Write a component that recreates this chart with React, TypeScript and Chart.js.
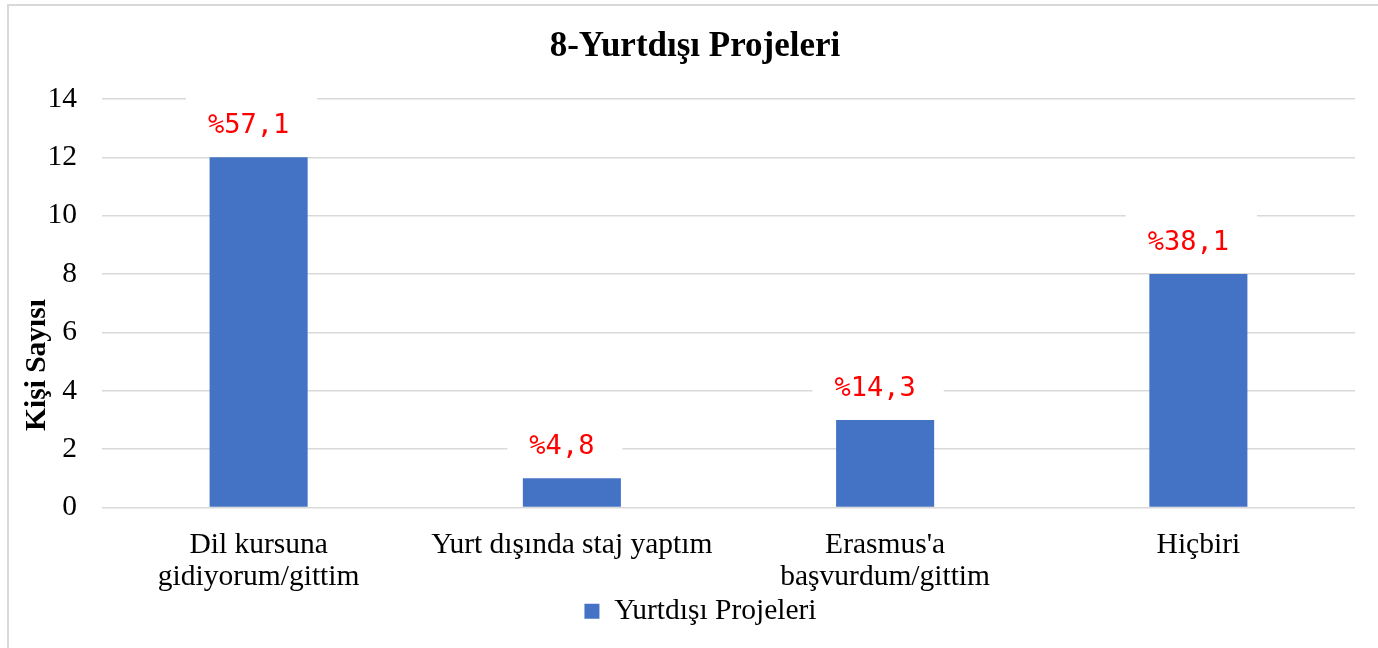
import React, { useEffect, useRef } from "react";
import { Chart, registerables } from "chart.js";

Chart.register(...registerables);

const chartTitle = "8-Yurtdışı Projeleri";
const yAxisTitle = "Kişi Sayısı";
const seriesName = "Yurtdışı Projeleri";
const categories: string[][] = [
  ["Dil kursuna", "gidiyorum/gittim"],
  ["Yurt dışında staj yaptım"],
  ["Erasmus'a", "başvurdum/gittim"],
  ["Hiçbiri"],
];
const values = [12, 1, 3, 8];
const percentLabels = ["%57,1", "%4,8", "%14,3", "%38,1"];
const yMin = 0;
const yMax = 14;
const yStep = 2;

const SERIF = '"Times New Roman", "Liberation Serif", serif';
const FS = 29.5;

const decorPlugin = {
  id: "decor",
  afterDatasetsDraw(chart: any) {
    const ctx = chart.ctx;
    const meta = chart.getDatasetMeta(0);
    ctx.save();
    ctx.font = '27px "DejaVu Sans Mono", monospace';
    ctx.textAlign = "center";
    ctx.textBaseline = "middle";
    meta.data.forEach((bar: any, i: number) => {
      const text = percentLabels[i];
      const cy = bar.y - 31;
      const w = ctx.measureText(text).width;
      const bw = w + 50;
      ctx.fillStyle = "#ffffff";
      ctx.fillRect(bar.x - 7 - bw / 2, cy - 32, bw, 56);
      ctx.fillStyle = "#FF0000";
      ctx.fillText(text, bar.x - 10, cy);
    });
    ctx.restore();
  },
  afterDraw(chart: any) {
    const ctx = chart.ctx;
    ctx.save();
    ctx.fillStyle = "#000000";
    ctx.textAlign = "center";
    ctx.textBaseline = "middle";
    ctx.font = `bold 35px ${SERIF}`;
    ctx.fillText(chartTitle, 695, 47);
    ctx.translate(37, 365);
    ctx.rotate(-Math.PI / 2);
    ctx.font = `bold ${FS}px ${SERIF}`;
    ctx.fillText(yAxisTitle, 0, 0);
    ctx.restore();
  },
};

export default function App() {
  const ref = useRef<HTMLCanvasElement | null>(null);
  useEffect(() => {
    if (!ref.current) return;
    const chart = new Chart(ref.current, {
      type: "bar",
      data: {
        labels: categories,
        datasets: [
          {
            label: seriesName,
            data: values,
            backgroundColor: "#4472C4",
            borderWidth: 0,
            barPercentage: 0.313,
            categoryPercentage: 1,
          },
        ],
      },
      options: {
        responsive: false,
        animation: false,
        layout: { padding: { left: 46, right: 23, top: 99, bottom: 12 } },
        plugins: {
          title: { display: false },
          tooltip: { enabled: false },
          legend: {
            display: true,
            position: "bottom",
            labels: {
              boxWidth: 15,
              boxHeight: 15,
              padding: 3,
              color: "#000000",
              font: { family: SERIF, size: FS },
            },
          },
        },
        scales: {
          x: {
            afterFit: (scale: any) => {
              scale.height = 86;
            },
            grid: { display: false, drawTicks: false },
            border: { display: false },
            ticks: {
              color: "#000000",
              padding: 22,
              maxRotation: 0,
              autoSkip: false,
              font: { family: SERIF, size: FS, lineHeight: 32 / FS },
            },
          },
          y: {
            min: yMin,
            max: yMax,
            afterFit: (scale: any) => {
              scale.width = 56;
            },
            grid: { color: "#d9d9d9", lineWidth: 1.5, drawTicks: false },
            border: { display: false },
            ticks: {
              stepSize: yStep,
              color: "#000000",
              padding: 25,
              font: { family: SERIF, size: FS },
            },
          },
        },
      },
      plugins: [decorPlugin],
    } as any);
    return () => chart.destroy();
  }, []);

  return (
    <div style={{ position: "fixed", inset: 0, overflow: "hidden", background: "#fff" }}>
      <div
        style={{
          position: "absolute",
          left: 7,
          top: 4,
          width: 1420,
          height: 720,
          border: "2px solid #d9d9d9",
        }}
      />
      <canvas
        ref={ref}
        width={1378}
        height={648}
        style={{ position: "absolute", left: 0, top: 0, width: 1378, height: 648 }}
      />
    </div>
  );
}
